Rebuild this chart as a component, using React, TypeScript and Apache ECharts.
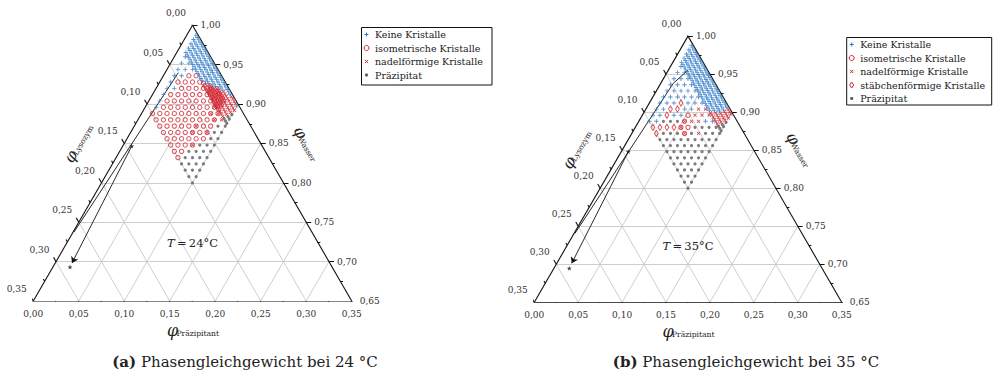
import { useEffect, useRef } from "react";
import * as echarts from "echarts";

// ---------- data ----------
const MAJOR_TICKS = [0, 0.05, 0.1, 0.15, 0.2, 0.25, 0.3, 0.35];
const MINOR_TICKS = [0.025, 0.075, 0.125, 0.175, 0.225, 0.275, 0.325];

// coarse screening lattice (phi_Präzipitant columns, phi_Lysozym rows)
const P_LEVELS = [0.012, 0.02, 0.028, 0.036, 0.044, 0.052, 0.06, 0.068, 0.076, 0.084, 0.092, 0.1];
const L_LEVELS = [0.1, 0.092, 0.084, 0.076, 0.068, 0.06, 0.052, 0.044, 0.036, 0.028];
// fine screening rows near the water corner
const FINE_P = [0.01, 0.013, 0.016, 0.019, 0.022, 0.025, 0.028, 0.031, 0.034, 0.037, 0.04, 0.043, 0.046, 0.049, 0.052, 0.055, 0.058, 0.061, 0.064, 0.067, 0.07, 0.073, 0.076, 0.079, 0.082, 0.085, 0.088, 0.091, 0.094, 0.097, 0.1];
const FINE_L = [0.0245, 0.019, 0.0135, 0.008, 0.0025];

// '+' keine, 'o' isometrisch, 'x' nadelförmig, 'd' stäbchenförmig, '.' Präzipitat, '*' isometrisch + nadelförmig
const CELLS_24 = [
  "oooooooo....",
  "+ooooooo....",
  "+ooooooo....",
  "+ooooooo*...",
  "+oooooo*o...",
  "++ooooo*oo..",
  "+oooooooo*..",
  "++oooooooo..",
  "++oooooo**..",
  "+++ooooo**x.",
];
const FINE_24 = [
  "+++++++++++++ooo*********xxx...",
  "++++++++++++++++*********xxxx..",
  "+++++++++++++++++++******xxxxx.",
  "++++++++++++++++++++++xxxxxxxxx",
  "++++++++++++++++++++++++++xxxx+",
];
const CELLS_35 = [
  "+dd.........",
  "++d.........",
  "++.d........",
  "++d.d.......",
  "++d+.**.....",
  "+++d+*o.....",
  "+++d+ox.x...",
  "++++++xx....",
  "++++++xx+...",
  "+++++++xx+..",
];
const FINE_35 = [
  "++++++++++++++++++++++xxxxxx...",
  "++++++++++++++++++++++++xxxxx..",
  "++++++++++++++++++++++++++xxxx.",
  "+++++++++++++++++++++++++++xxxx",
  "++++++++++++++++++++++++++++xxx",
];

// annotation paths, points as [phi_Lysozym, phi_Präzipitant]
const ARROW_A_24 = [[0.0457, 0.0145], [0.2615, 0.001]];
const ARROW_B_24 = [[0.1435, 0.0098], [0.2833, 0.0184]];
const STARS_24 = [[0.1435, 0.0098], [0.2881, 0.0188]];
const ARROW_A_35 = [[0.022, 0.0226], [0.033, 0.019], [0.0478, 0.0143], [0.2583, 0.001]];
const ARROW_B_35 = [[0.144, 0.008], [0.2818, 0.017]];
const STARS_35 = [[0.144, 0.008], [0.2878, 0.0175]];

const LEGEND_24 = ["Keine Kristalle", "isometrische Kristalle", "nadelförmige Kristalle", "Präzipitat"];
const LEGEND_KEYS_24 = ["+", "o", "x", "."];
const LEGEND_35 = ["Keine Kristalle", "isometrische Kristalle", "nadelförmige Kristalle", "stäbchenförmige Kristalle", "Präzipitat"];
const LEGEND_KEYS_35 = ["+", "o", "x", "d", "."];

// ---------- style ----------
const BLUE = "#2a78c8";
const RED = "#cf2330";
const GRAY = "#5e5e5e";
const GRID_COLOR = "#c8c8c8";
const INK = "#222";
const SERIF = "'DejaVu Serif', 'Liberation Serif', serif";
const H = Math.sqrt(3) / 2;
const PLUS = "path://M4,0H6V4H10V6H6V10H4V6H0V4H4Z";
const STAR = "path://M50,0L61.8,35.4L99,35.4L69,57.3L80.3,92.7L50,70.8L19.7,92.7L31,57.3L1,35.4L38.2,35.4Z";

const tern = (L: number, P: number): number[] => [(P - L) / 2 + 0.175, (0.35 - L - P) * H];
const seg = (a: number[], b: number[]) => ({ coords: [tern(a[0], a[1]), tern(b[0], b[1])] });
const fmt = (v: number) => v.toFixed(2).replace(".", ",");

const CAT: Record<string, any> = {
  ".": { name: "Präzipitat", symbol: "circle", symbolSize: 3.2, itemStyle: { color: GRAY } },
  o: { name: "isometrische Kristalle", symbol: "circle", symbolSize: 4.3, itemStyle: { color: "rgba(255,255,255,0)", borderColor: RED, borderWidth: 1 } },
  d: { name: "stäbchenförmige Kristalle", symbol: "diamond", symbolSize: [3.8, 6.2], itemStyle: { color: "rgba(255,255,255,0)", borderColor: RED, borderWidth: 1 } },
  x: { name: "nadelförmige Kristalle", symbol: PLUS, symbolSize: 4.4, symbolRotate: 45, itemStyle: { color: RED } },
  "+": { name: "Keine Kristalle", symbol: PLUS, symbolSize: 4.4, itemStyle: { color: BLUE } },
};

const PANELS = [
  {
    grid: { left: 33.3, top: 25.3, width: 318.4, height: 275.7 },
    cells: CELLS_24, fine: FINE_24, arrowA: ARROW_A_24, arrowB: ARROW_B_24, stars: STARS_24,
    temp: "24", tag: "(a)", legend: LEGEND_24, keys: LEGEND_KEYS_24,
    box: { x: 361.5, y: 27.5, w: 130.5, h: 57.5 }, caption: [245, 362],
  },
  {
    grid: { left: 534.3, top: 36.1, width: 307.4, height: 266.2 },
    cells: CELLS_35, fine: FINE_35, arrowA: ARROW_A_35, arrowB: ARROW_B_35, stars: STARS_35,
    temp: "35", tag: "(b)", legend: LEGEND_35, keys: LEGEND_KEYS_35,
    box: { x: 846.7, y: 37.5, w: 145, h: 67.5 }, caption: [746, 362],
  },
];

function panelSeries(p: any, g: number) {
  const ax = { xAxisIndex: g, yAxisIndex: g };
  const gridSegs: any[] = [];
  MAJOR_TICKS.filter((k) => k > 0 && k < 0.35).forEach((k) => {
    gridSegs.push(seg([k, 0], [0, k]), seg([k, 0], [k, 0.35 - k]), seg([0, k], [0.35 - k, k]));
  });
  const edges = [seg([0, 0], [0.35, 0]), seg([0.35, 0], [0, 0.35]), seg([0, 0.35], [0, 0])];
  const ticks: any[] = [];
  const addTicks = (k: number, t: number) => {
    ticks.push(seg([0.35 - k, k], [0.35 - k + t, k]));
    ticks.push(seg([0, k], [-t, k + t]));
    ticks.push(seg([k, 0], [k, -t]));
  };
  MAJOR_TICKS.forEach((k) => addTicks(k, 0.0055));
  MINOR_TICKS.forEach((k) => addTicks(k, 0.003));

  const pts: Record<string, number[][]> = { ".": [], o: [], x: [], d: [], "+": [] };
  const add = (ch: string, L: number, P: number) => {
    if (ch === "*") {
      pts.o.push(tern(L, P));
      pts.x.push(tern(L, P));
    } else if (pts[ch]) pts[ch].push(tern(L, P));
  };
  p.cells.forEach((row: string, i: number) => row.split("").forEach((ch, j) => add(ch, L_LEVELS[i], P_LEVELS[j])));
  p.fine.forEach((row: string, i: number) => row.split("").forEach((ch, j) => add(ch, FINE_L[i], FINE_P[j])));

  const lineBase = { type: "lines", coordinateSystem: "cartesian2d", ...ax, silent: true, animation: false };
  const out: any[] = [
    { ...lineBase, data: gridSegs, lineStyle: { color: GRID_COLOR, width: 0.9, opacity: 1 }, z: 1 },
    { ...lineBase, data: [...edges, ...ticks], lineStyle: { color: "#111", width: 1.1, opacity: 1 }, z: 3 },
    {
      ...lineBase, polyline: true,
      data: [{ coords: p.arrowA.map((q: number[]) => tern(q[0], q[1])) }],
      lineStyle: { color: "#111", width: 0.9, opacity: 1 }, z: 4,
    },
    {
      ...lineBase,
      data: [{ coords: p.arrowB.map((q: number[]) => tern(q[0], q[1])) }],
      symbol: ["none", "arrow"], symbolSize: [0, 6],
      lineStyle: { color: "#111", width: 0.9, opacity: 1 }, itemStyle: { color: "#111" }, z: 4,
    },
    {
      type: "scatter", ...ax, silent: true, symbol: STAR, symbolSize: 5,
      itemStyle: { color: "#111" }, data: p.stars.map((q: number[]) => tern(q[0], q[1])), z: 5,
    },
  ];
  [".", "o", "d", "x", "+"].forEach((k) => {
    if (!pts[k].length) return;
    out.push({ type: "scatter", ...ax, silent: true, ...CAT[k], name: CAT[k].name + " " + g, data: pts[k], z: 6 });
  });
  return out;
}

function txt(x: number, y: number, text: string, align: string, vAlign: string, size: number, extra: any = {}) {
  return {
    type: "text", x, y, silent: true, z: 20,
    style: { text, fill: INK, fontSize: size, fontFamily: SERIF, align, verticalAlign: vAlign, textAlign: align, textVerticalAlign: vAlign, ...extra },
  };
}

function phiLabel(cx: number, cy: number, rot: number, sub: string, subW: number) {
  const phiW = 9;
  const left = -(phiW + subW) / 2;
  return {
    type: "group", x: cx, y: cy, rotation: rot, silent: true, z: 20,
    children: [
      txt(left, 0, "φ", "left", "middle", 16, { fontStyle: "italic" }),
      txt(left + phiW + 0.5, 3, sub, "left", "middle", 7.6),
    ],
  };
}

function marker(code: string, cx: number, cy: number) {
  const ln = (x1: number, y1: number, x2: number, y2: number, color: string) => ({
    type: "line", shape: { x1, y1, x2, y2 }, style: { stroke: color, lineWidth: 1 }, silent: true, z: 21,
  });
  if (code === "+") return [ln(cx - 2, cy, cx + 2, cy, BLUE), ln(cx, cy - 2, cx, cy + 2, BLUE)];
  if (code === "x") return [ln(cx - 1.6, cy - 1.6, cx + 1.6, cy + 1.6, RED), ln(cx - 1.6, cy + 1.6, cx + 1.6, cy - 1.6, RED)];
  if (code === "o") return [{ type: "circle", shape: { cx, cy, r: 2.5 }, style: { fill: "none", stroke: RED, lineWidth: 1 }, silent: true, z: 21 }];
  if (code === "d") return [{ type: "polygon", shape: { points: [[cx, cy - 3], [cx + 2, cy], [cx, cy + 3], [cx - 2, cy]] }, style: { fill: "none", stroke: RED, lineWidth: 1 }, silent: true, z: 21 }];
  return [{ type: "circle", shape: { cx, cy, r: 1.6 }, style: { fill: GRAY }, silent: true, z: 21 }];
}

function panelGraphic(chart: any, p: any, g: number) {
  const px = (L: number, P: number) => chart.convertToPixel({ gridIndex: g }, tern(L, P)) as number[];
  const els: any[] = [];
  MAJOR_TICKS.forEach((k) => {
    const b = px(0.35 - k, k);
    els.push(txt(b[0], b[1] + 12.5, fmt(k), "center", "middle", 9, { fill: "#333" }));
    const r = px(0, k);
    els.push(txt(r[0] + 8, r[1], fmt(1 - k), "left", "middle", 9, { fill: "#333" }));
    const l = px(k, 0);
    els.push(txt(l[0] - 6.5, l[1] - 12, fmt(k), "right", "middle", 9, { fill: "#333" }));
  });
  const bm = px(0.175, 0.175);
  els.push(phiLabel(bm[0], bm[1] + 29, 0, "Präzipitant", 42));
  const lm = px(0.175, 0);
  els.push(phiLabel(lm[0] - 0.866 * 40, lm[1] - 20, Math.PI / 3, "Lysozym", 33));
  const rm = px(0, 0.175);
  els.push(phiLabel(rm[0] + 0.866 * 40, rm[1] - 20, -Math.PI / 3, "Wasser", 27));
  const tp = px(0.138, 0.138);
  els.push({
    type: "text", x: tp[0], y: tp[1], silent: true, z: 20,
    style: {
      text: "{i|T}\u2009=\u2009" + p.temp + "°C", fill: INK, fontSize: 11.5, fontFamily: SERIF,
      align: "center", verticalAlign: "middle", textAlign: "center", textVerticalAlign: "middle",
      rich: { i: { fontStyle: "italic", fontSize: 11.5, fontFamily: SERIF, fill: INK } },
    },
  });
  const b = p.box;
  els.push({ type: "rect", shape: { x: b.x, y: b.y, width: b.w, height: b.h }, style: { fill: "#fff", stroke: "#111", lineWidth: 1 }, silent: true, z: 19 });
  p.legend.forEach((name: string, i: number) => {
    const cy = b.y + 7 + i * 13.5;
    els.push(...marker(p.keys[i], b.x + 5, cy));
    els.push(txt(b.x + 13.5, cy, name, "left", "middle", 9.5));
  });
  els.push({
    type: "text", x: p.caption[0], y: p.caption[1], silent: true, z: 20,
    style: {
      text: "{b|" + p.tag + "} Phasengleichgewicht bei " + p.temp + " °C", fill: INK, fontSize: 15, fontFamily: SERIF,
      align: "center", verticalAlign: "middle", textAlign: "center", textVerticalAlign: "middle",
      rich: { b: { fontWeight: "bold", fontSize: 15, fontFamily: SERIF, fill: INK } },
    },
  });
  return els;
}

export default function App() {
  const ref = useRef<HTMLDivElement>(null);
  useEffect(() => {
    document.body.style.margin = "0";
    const chart = echarts.init(ref.current!, null, { renderer: "svg" });
    chart.setOption({
      animation: false,
      backgroundColor: "#fff",
      grid: PANELS.map((p) => ({ ...p.grid, containLabel: false })),
      xAxis: PANELS.map((_, g) => ({ gridIndex: g, type: "value", min: 0, max: 0.35, show: false })),
      yAxis: PANELS.map((_, g) => ({ gridIndex: g, type: "value", min: 0, max: 0.35 * H, show: false })),
      series: PANELS.flatMap((p, g) => panelSeries(p, g)),
    });
    chart.setOption({ graphic: { elements: PANELS.flatMap((p, g) => panelGraphic(chart, p, g)) } });
    return () => chart.dispose();
  }, []);
  return <div ref={ref} style={{ position: "fixed", left: 0, top: 0, width: 996, height: 373, background: "#fff" }} />;
}
